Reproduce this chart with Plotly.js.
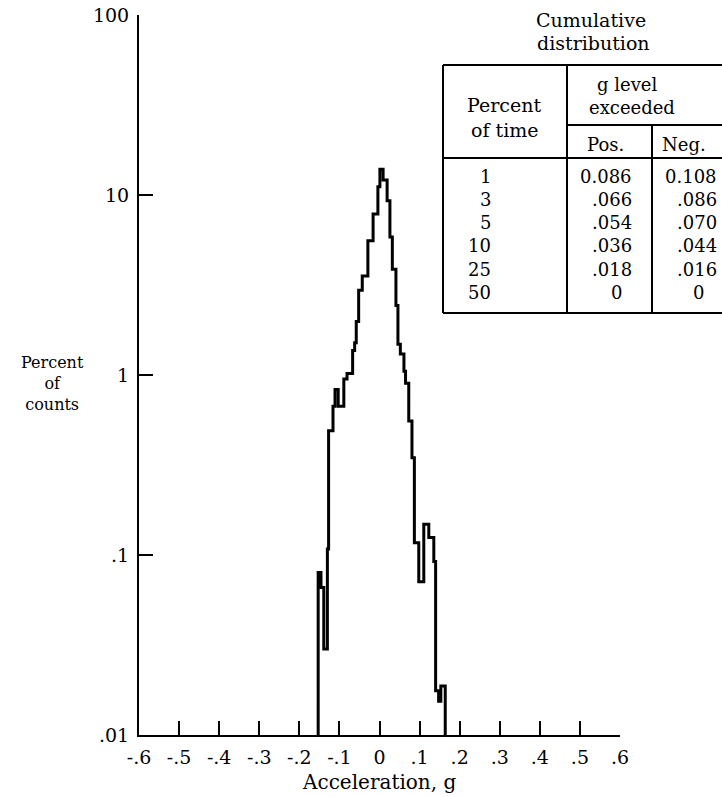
<!DOCTYPE html>
<html>
<head>
<meta charset="utf-8">
<script src="https://cdn.plot.ly/plotly-3.0.1.min.js"></script>
<style>
  html, body { margin: 0; padding: 0; background: #fff; }
  #chart { width: 722px; height: 797px; }
</style>
</head>
<body>
<div id="chart"></div>
<script>
// ---- Histogram data ----
// bin edges in g (acceleration)
const binEdges = [-0.153, -0.146, -0.139, -0.130, -0.127, -0.116, -0.111, -0.103, -0.089, -0.081,
  -0.067, -0.062, -0.058, -0.052, -0.043, -0.029, -0.016, -0.004, 0.001, 0.009,
  0.019, 0.026, 0.032, 0.041, 0.046, 0.052, 0.061, 0.065, 0.073, 0.081,
  0.087, 0.098, 0.1105, 0.123, 0.1355, 0.140, 0.1475, 0.153, 0.164];
// percent of counts in each bin
const percentCounts = [0.080, 0.066, 0.030, 0.108, 0.49, 0.67, 0.83, 0.67, 0.95,
  1.02, 1.37, 1.51, 1.98, 2.96, 3.55, 5.57, 7.84, 11.1, 13.9,
  12.1, 9.3, 5.85, 3.87, 2.43, 1.48, 1.31, 1.05, 0.90, 0.555,
  0.347, 0.117, 0.071, 0.148, 0.125, 0.092, 0.0176, 0.0154, 0.0187];

// ---- Axis ticks ----
const xTickVals = [-0.6, -0.5, -0.4, -0.3, -0.2, -0.1, 0, 0.1, 0.2, 0.3, 0.4, 0.5, 0.6];
const xTickText = ['-.6', '-.5', '-.4', '-.3', '-.2', '-.1', '0', '.1', '.2', '.3', '.4', '.5', '.6'];
const yTickVals = [0.01, 0.1, 1, 10, 100];
const yTickText = ['.01', '.1', '1', '10', '100'];

// ---- Table data ----
const tablePercentTime = ['1', '3', '5', '10', '25', '50'];
const tablePos = ['0.086', '.066', '.054', '.036', '.018', '0'];
const tableNeg = ['0.108', '.086', '.070', '.044', '.016', '0'];

// ---- Build step outline ----
const yFloor = 0.01;
const xs = [binEdges[0]];
const ys = [yFloor];
for (let i = 0; i < percentCounts.length; i++) {
  xs.push(binEdges[i]);
  ys.push(percentCounts[i]);
}
xs.push(binEdges[binEdges.length - 1]);
ys.push(percentCounts[percentCounts.length - 1]);
xs.push(binEdges[binEdges.length - 1]);
ys.push(yFloor);

const FONT = 'DejaVu Serif, Liberation Serif, serif';

// layout geometry (pixels)
const W = 722, H = 797;
const mL = 139, mR = 102, mT = 15, mB = 62;
const pw = W - mL - mR, ph = H - mT - mB;
const px = x => (x - mL) / pw;
const py = y => 1 - (y - mT) / ph;

const shapes = [];
const annotations = [];
function hline(x0, x1, y) {
  shapes.push({type: 'line', xref: 'paper', yref: 'paper', x0: px(x0), x1: px(x1), y0: py(y), y1: py(y),
    line: {color: '#000', width: 2}});
}
function vline(x, y0, y1) {
  shapes.push({type: 'line', xref: 'paper', yref: 'paper', x0: px(x), x1: px(x), y0: py(y0), y1: py(y1),
    line: {color: '#000', width: 2}});
}
function text(t, x, y, anchor, size, align) {
  annotations.push({text: t, xref: 'paper', yref: 'paper', x: px(x), y: py(y), xanchor: anchor || 'center',
    yanchor: 'middle', align: align || 'center', showarrow: false,
    font: {family: FONT, size: size || 18, color: '#000'}});
}

// Table frame
const tL = 443, tC1 = 567, tC2 = 652, tR = 730;
const tTop = 65, tMid = 125, tHead = 158, tBot = 313;
hline(tL, tR, tTop);
hline(tC1, tR, tMid);
hline(tL, tR, tHead);
hline(tL, tR, tBot);
vline(tL, tTop, tBot);
vline(tC1, tTop, tBot);
vline(tC2, tMid, tBot);

// Table texts
text('Cumulative', 591, 20, 'center', 19);
text('distribution', 593, 43, 'center', 19);
text('Percent', 504, 105, 'center', 19);
text('of time', 504, 130, 'center', 19);
text('g level', 627, 85, 'center', 18);
text('exceeded', 632, 107, 'center', 18);
text('Pos.', 605, 144, 'center', 18);
text('Neg.', 684, 144, 'center', 18);
const rowY0 = 177, rowDy = 23;
for (let i = 0; i < tablePercentTime.length; i++) {
  const y = rowY0 + i * rowDy;
  text(tablePercentTime[i], 493, y, 'right', 18);
  if (tablePos[i] === '0') text(tablePos[i], 616, y, 'center', 18);
  else text(tablePos[i], 634, y, 'right', 18);
  if (tableNeg[i] === '0') text(tableNeg[i], 698, y, 'center', 18);
  else text(tableNeg[i], 719, y, 'right', 18);
}

// Axis titles
text('Percent<br>of<br>counts', 52, 384, 'center', 16);
text('Acceleration, g', 379, 782, 'center', 20);

const trace = {
  x: xs, y: ys, type: 'scatter', mode: 'lines',
  line: {shape: 'hv', color: '#000', width: 3},
  hoverinfo: 'skip', showlegend: false, cliponaxis: false
};

const layout = {
  width: W, height: H,
  margin: {l: mL, r: mR, t: mT, b: mB, pad: 0},
  paper_bgcolor: '#fff', plot_bgcolor: '#fff',
  font: {family: FONT, size: 18, color: '#000'},
  showlegend: false,
  xaxis: {
    range: [-0.6, 0.6], tickvals: xTickVals, ticktext: xTickText,
    ticks: 'inside', ticklen: 14, tickwidth: 2, tickcolor: '#000',
    showline: true, linewidth: 2, linecolor: '#000', showgrid: false, zeroline: false,
    ticklabelstandoff: 4, tickfont: {family: FONT, size: 19, color: '#000'}
  },
  yaxis: {
    type: 'log', range: [-2, 2], tickvals: yTickVals, ticktext: yTickText,
    ticks: 'inside', ticklen: 14, tickwidth: 2, tickcolor: '#000',
    showline: true, linewidth: 2, linecolor: '#000', showgrid: false, zeroline: false,
    ticklabelstandoff: 4, tickfont: {family: FONT, size: 19, color: '#000'}
  },
  shapes: shapes,
  annotations: annotations
};

Plotly.newPlot('chart', [trace], layout, {displayModeBar: false, staticPlot: true});
</script>
</body>
</html>
